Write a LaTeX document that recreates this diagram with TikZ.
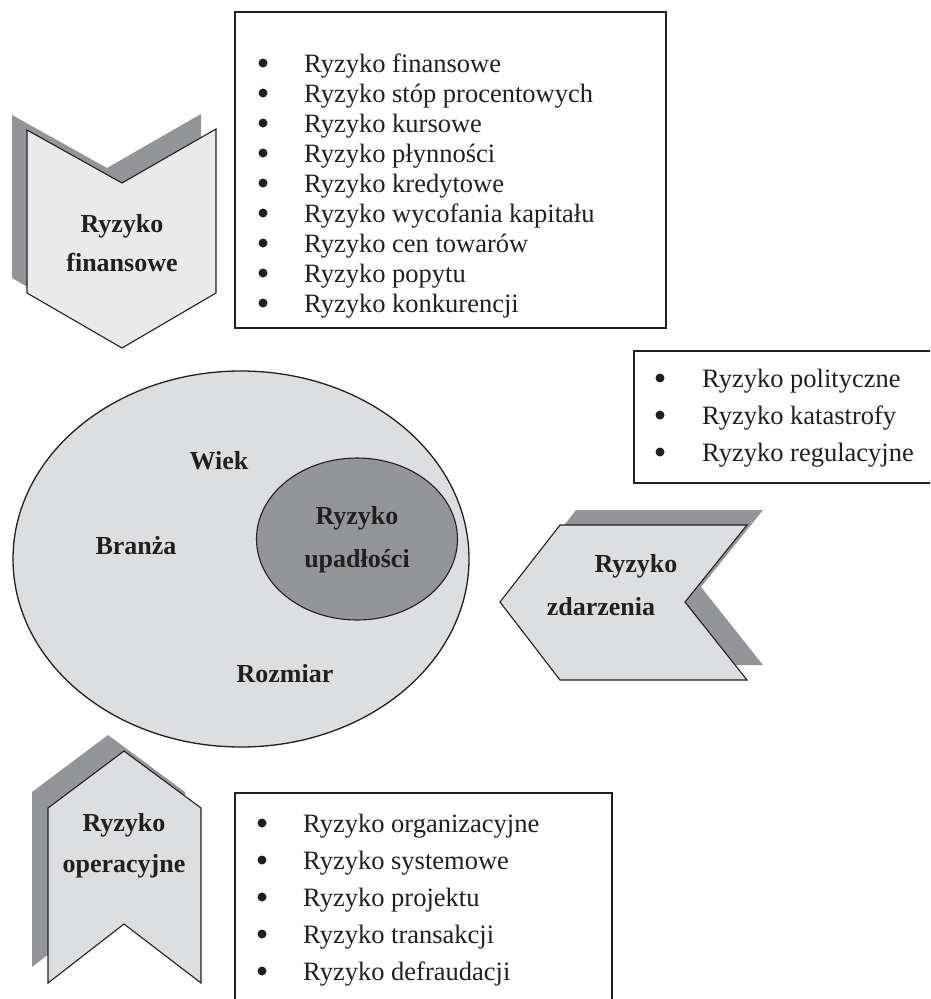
\documentclass[tikz,border=0pt]{standalone}
\usepackage{fontspec}
\setmainfont{Liberation Serif}
\usetikzlibrary{shapes.geometric}
\definecolor{ink}{HTML}{231F20}
\definecolor{shade}{HTML}{939598}
\definecolor{pale}{HTML}{DDDEE0}
\definecolor{paler}{HTML}{EAEAEB}

\begin{document}
\begin{tikzpicture}[x=1pt, y=-1pt,
  every node/.style={text=ink},
  frame/.style={rectangle, draw=ink, line width=1.6pt, anchor=north west, inner sep=0pt},
  item/.style={anchor=base west, inner sep=0pt, font=\fontsize{26.5}{30}\selectfont},
  dot/.style={circle, fill=ink, minimum size=9pt, inner sep=0pt},
  tag/.style={anchor=base, inner sep=0pt, font=\bfseries\fontsize{26}{30}\selectfont},
  chev/.style={draw=ink, line width=1.1pt, line join=miter},
  shadow/.style={fill=shade}
]
\clip (0,0) rectangle (930,999);
\fill[white] (0,0) rectangle (930,999);

% list boxes
\node[frame, minimum width=431pt, minimum height=316pt] (finbox) at (234,11) {};
\node[frame, minimum width=330pt, minimum height=132pt] (zdbox) at (633,350) {};
\node[frame, minimum width=377pt, minimum height=250pt] (opbox) at (234,792) {};

\foreach \t [count=\i] in {finansowe, stóp procentowych, kursowe, płynności, kredytowe,
    wycofania kapitału, cen towarów, popytu, konkurencji} {
  \node[dot] at (263, {63+30*(\i-1)}) {};
  \node[item] (fin\i) at (304, {72+30*(\i-1)}) {Ryzyko \t};
}
\foreach \t [count=\i] in {polityczne, katastrofy, regulacyjne} {
  \node[dot] at (660, {378+37*(\i-1)}) {};
  \node[item] (zd\i) at (702, {387+37*(\i-1)}) {Ryzyko \t};
}
\foreach \t [count=\i] in {organizacyjne, systemowe, projektu, transakcji, defraudacji} {
  \node[dot] at (262, {823+37*(\i-1)}) {};
  \node[item] (op\i) at (303, {832+37*(\i-1)}) {Ryzyko \t};
}

% firm and bankruptcy
\node[ellipse, draw=ink, line width=1.3pt, fill=pale, minimum width=456pt, minimum height=376pt, inner sep=0pt] (firm) at (241,559) {};
\node[ellipse, draw=ink, line width=1.1pt, fill=shade, minimum width=201pt, minimum height=162pt, inner sep=0pt] (bankrupt) at (357,539) {};
\node[tag] (wiek) at (219,469) {Wiek};
\node[tag] (branza) at (136,554) {Branża};
\node[tag] (rozmiar) at (285,682) {Rozmiar};
\node[tag] (upad1) at (357,524) {Ryzyko};
\node[tag] (upad2) at (357,567) {upadłości};

% chevrons
\fill[shadow, shift={(-15,-15)}] (27,130) -- (122,183) -- (216,129) -- (216,293) -- (122,348) -- (27,293) -- cycle;
\filldraw[chev, fill=paler] (27,130) -- (122,183) -- (216,129) -- (216,293) -- (122,348) -- (27,293) -- cycle;
\node[tag] (fin-a) at (122,232) {Ryzyko};
\node[tag] (fin-b) at (122,271) {finansowe};

\fill[shadow, shift={(16,-15)}] (500,602) -- (560,525) -- (747,525) -- (685,602) -- (747,680) -- (560,680) -- cycle;
\filldraw[chev, fill=pale] (500,602) -- (560,525) -- (747,525) -- (685,602) -- (747,680) -- (560,680) -- cycle;
\node[tag] (zd-a) at (636,572) {Ryzyko};
\node[tag] (zd-b) at (601,615) {zdarzenia};

\fill[shadow, shift={(-16,-16)}] (124,751) -- (201,808) -- (201,983) -- (124,924) -- (48,983) -- (48,808) -- cycle;
\filldraw[chev, fill=pale] (124,751) -- (201,808) -- (201,983) -- (124,924) -- (48,983) -- (48,808) -- cycle;
\node[tag] (op-a) at (124,831) {Ryzyko};
\node[tag] (op-b) at (124,872) {operacyjne};
\end{tikzpicture}
\end{document}
